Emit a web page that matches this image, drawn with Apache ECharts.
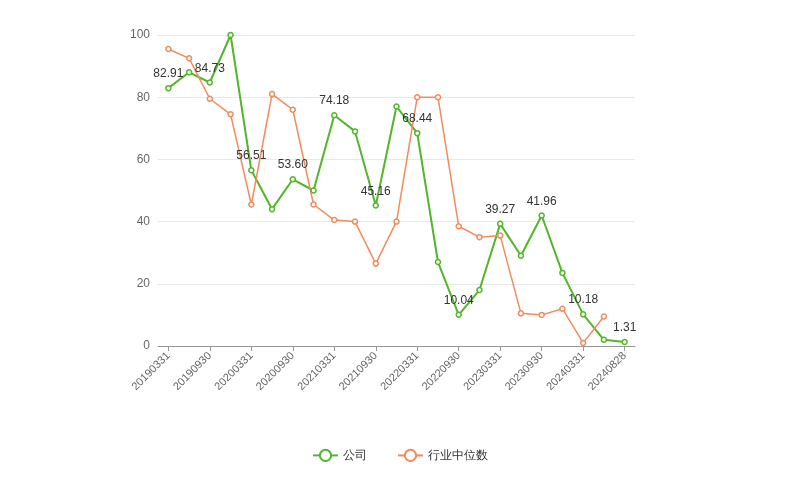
<!DOCTYPE html>
<html><head><meta charset="utf-8">
<script src="https://cdn.jsdelivr.net/npm/echarts@6/dist/echarts.min.js"></script>
<style>html,body{margin:0;background:#fff}#c{width:800px;height:500px}</style>
</head><body><div id="c"></div>
<script>
const categories=['20190331','20190630','20190930','20191231','20200331','20200630','20200930','20201231','20210331','20210630','20210930','20211231','20220331','20220630','20220930','20221231','20230331','20230630','20230930','20231231','20240331','20240630','20240828'];
const company=[82.91,88,84.73,100,56.51,44,53.60,50,74.18,69,45.16,77,68.44,27,10.04,18,39.27,29,41.96,23.5,10.18,2,1.31];
const industry=[95.5,92.5,79.5,74.5,45.5,81,76,45.5,40.5,40,26.5,40,80,80,38.5,35,35.5,10.5,10,12,1,9.5,null];
const labelIdx=[0,2,4,6,8,10,12,14,16,18,20,22];
const chart=echarts.init(document.getElementById('c'));
chart.setOption({
 animation:false,
 grid:{left:158,right:165,top:35,bottom:154},
 legend:{bottom:33,left:'center',itemGap:30,textStyle:{color:'#333',fontSize:12},data:['公司','行业中位数']},
 xAxis:{type:'category',data:categories,boundaryGap:true,
  axisLine:{lineStyle:{color:'#999'}},axisTick:{show:true,alignWithLabel:true,interval:1},
  axisLabel:{interval:1,rotate:45,color:'#666',fontSize:11}},
 yAxis:{type:'value',min:0,max:100,interval:20,axisLine:{show:false},axisTick:{show:false},
  axisLabel:{color:'#666',fontSize:12},splitLine:{lineStyle:{color:'#e8e8e8'}}},
 series:[
  {name:'公司',type:'line',data:company,color:'#52b52a',symbol:'circle',symbolSize:5,
   itemStyle:{color:'#fff',borderColor:'#52b52a',borderWidth:1.5},lineStyle:{width:2,color:'#52b52a'},
   label:{show:true,position:'top',color:'#333',fontSize:12,formatter:p=>labelIdx.includes(p.dataIndex)?p.value.toFixed(2):''}},
  {name:'行业中位数',type:'line',data:industry,color:'#f28b5e',symbol:'circle',symbolSize:5,
   itemStyle:{color:'#fff',borderColor:'#f28b5e',borderWidth:1.5},lineStyle:{width:1.5,color:'#f28b5e'}}
 ]
});
</script></body></html>
